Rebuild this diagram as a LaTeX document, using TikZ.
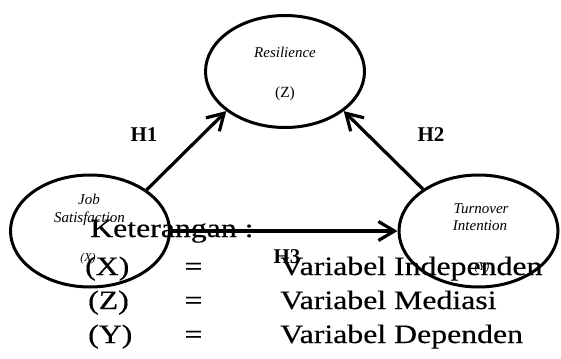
\documentclass[tikz,border=0pt]{standalone}
\usepackage{fontspec}
\setmainfont{Liberation Serif}
\newfontfamily\legendfont[FakeStretch=1.2,FakeBold=0.4]{Liberation Serif}
\usetikzlibrary{shapes.geometric,arrows.meta}
\begin{document}
\begin{tikzpicture}[x=1pt,y=-1pt,
  var/.style={draw, ellipse, line width=3pt, minimum width=159pt, minimum height=112pt, inner sep=0pt},
  link/.style={line width=3.2pt, -{Straight Barb[length=16pt,width=19pt]}},
  lab/.style={font=\fontsize{15}{18}\selectfont\itshape, inner sep=0pt, anchor=base},
  smalllab/.style={font=\fontsize{12}{14}\selectfont\itshape, inner sep=0pt, anchor=base},
  hyp/.style={font=\fontsize{21}{24}\selectfont\bfseries, inner sep=0pt, anchor=base},
  leg/.style={font=\legendfont\fontsize{26.5}{30}\selectfont, inner sep=0pt, anchor=base west},
  legeq/.style={font=\legendfont\fontsize{26.5}{30}\selectfont, inner sep=0pt, anchor=base}]
\useasboundingbox (0,0) rectangle (561,358);

% legend
\node[leg] (ket) at (90,237) {Keterangan :};
\node[leg] (kx) at (85,275) {(X)};
\node[legeq] (e1) at (193.5,275) {=};
\node[leg] (v1) at (280,275) {Variabel Independen};
\node[leg] (kz) at (88,309) {(Z)};
\node[legeq] (e2) at (193.5,309) {=};
\node[leg] (v2) at (280,309) {Variabel Mediasi};
\node[leg] (ky) at (88,343) {(Y)};
\node[legeq] (e3) at (193.5,343) {=};
\node[leg] (v3) at (280,343) {Variabel Dependen};

% ellipses
\node[var] (res) at (285,71.5) {};
\node[var] (js) at (90,231) {};
\node[var] (ti) at (478.5,231) {};

% ellipse texts
\node[lab] (resl) at (285,58) {Resilience};
\node[lab, font=\fontsize{15.5}{18}\selectfont] (resz) at (285,98) {(Z)};
\node[lab] (jsl1) at (89,204) {Job};
\node[lab] (jsl2) at (89.5,222) {Satisfaction};
\node[smalllab] (jsx) at (88,261) {(X)};
\node[lab] (til1) at (481,213) {Turnover};
\node[lab] (til2) at (480,230) {Intention};
\node[smalllab] (tiy) at (482,270) {(Y)};

% arrows
\draw[link] (js.36) -- (res.214);
\draw[link] (ti.143) -- (res.326);
\draw[link] (js.east) -- (ti.west);

% hypotheses
\node[hyp] (h1) at (144,142) {H1};
\node[hyp] (h2) at (431,142) {H2};
\node[hyp] (h3) at (287,263) {H3};
\end{tikzpicture}
\end{document}
